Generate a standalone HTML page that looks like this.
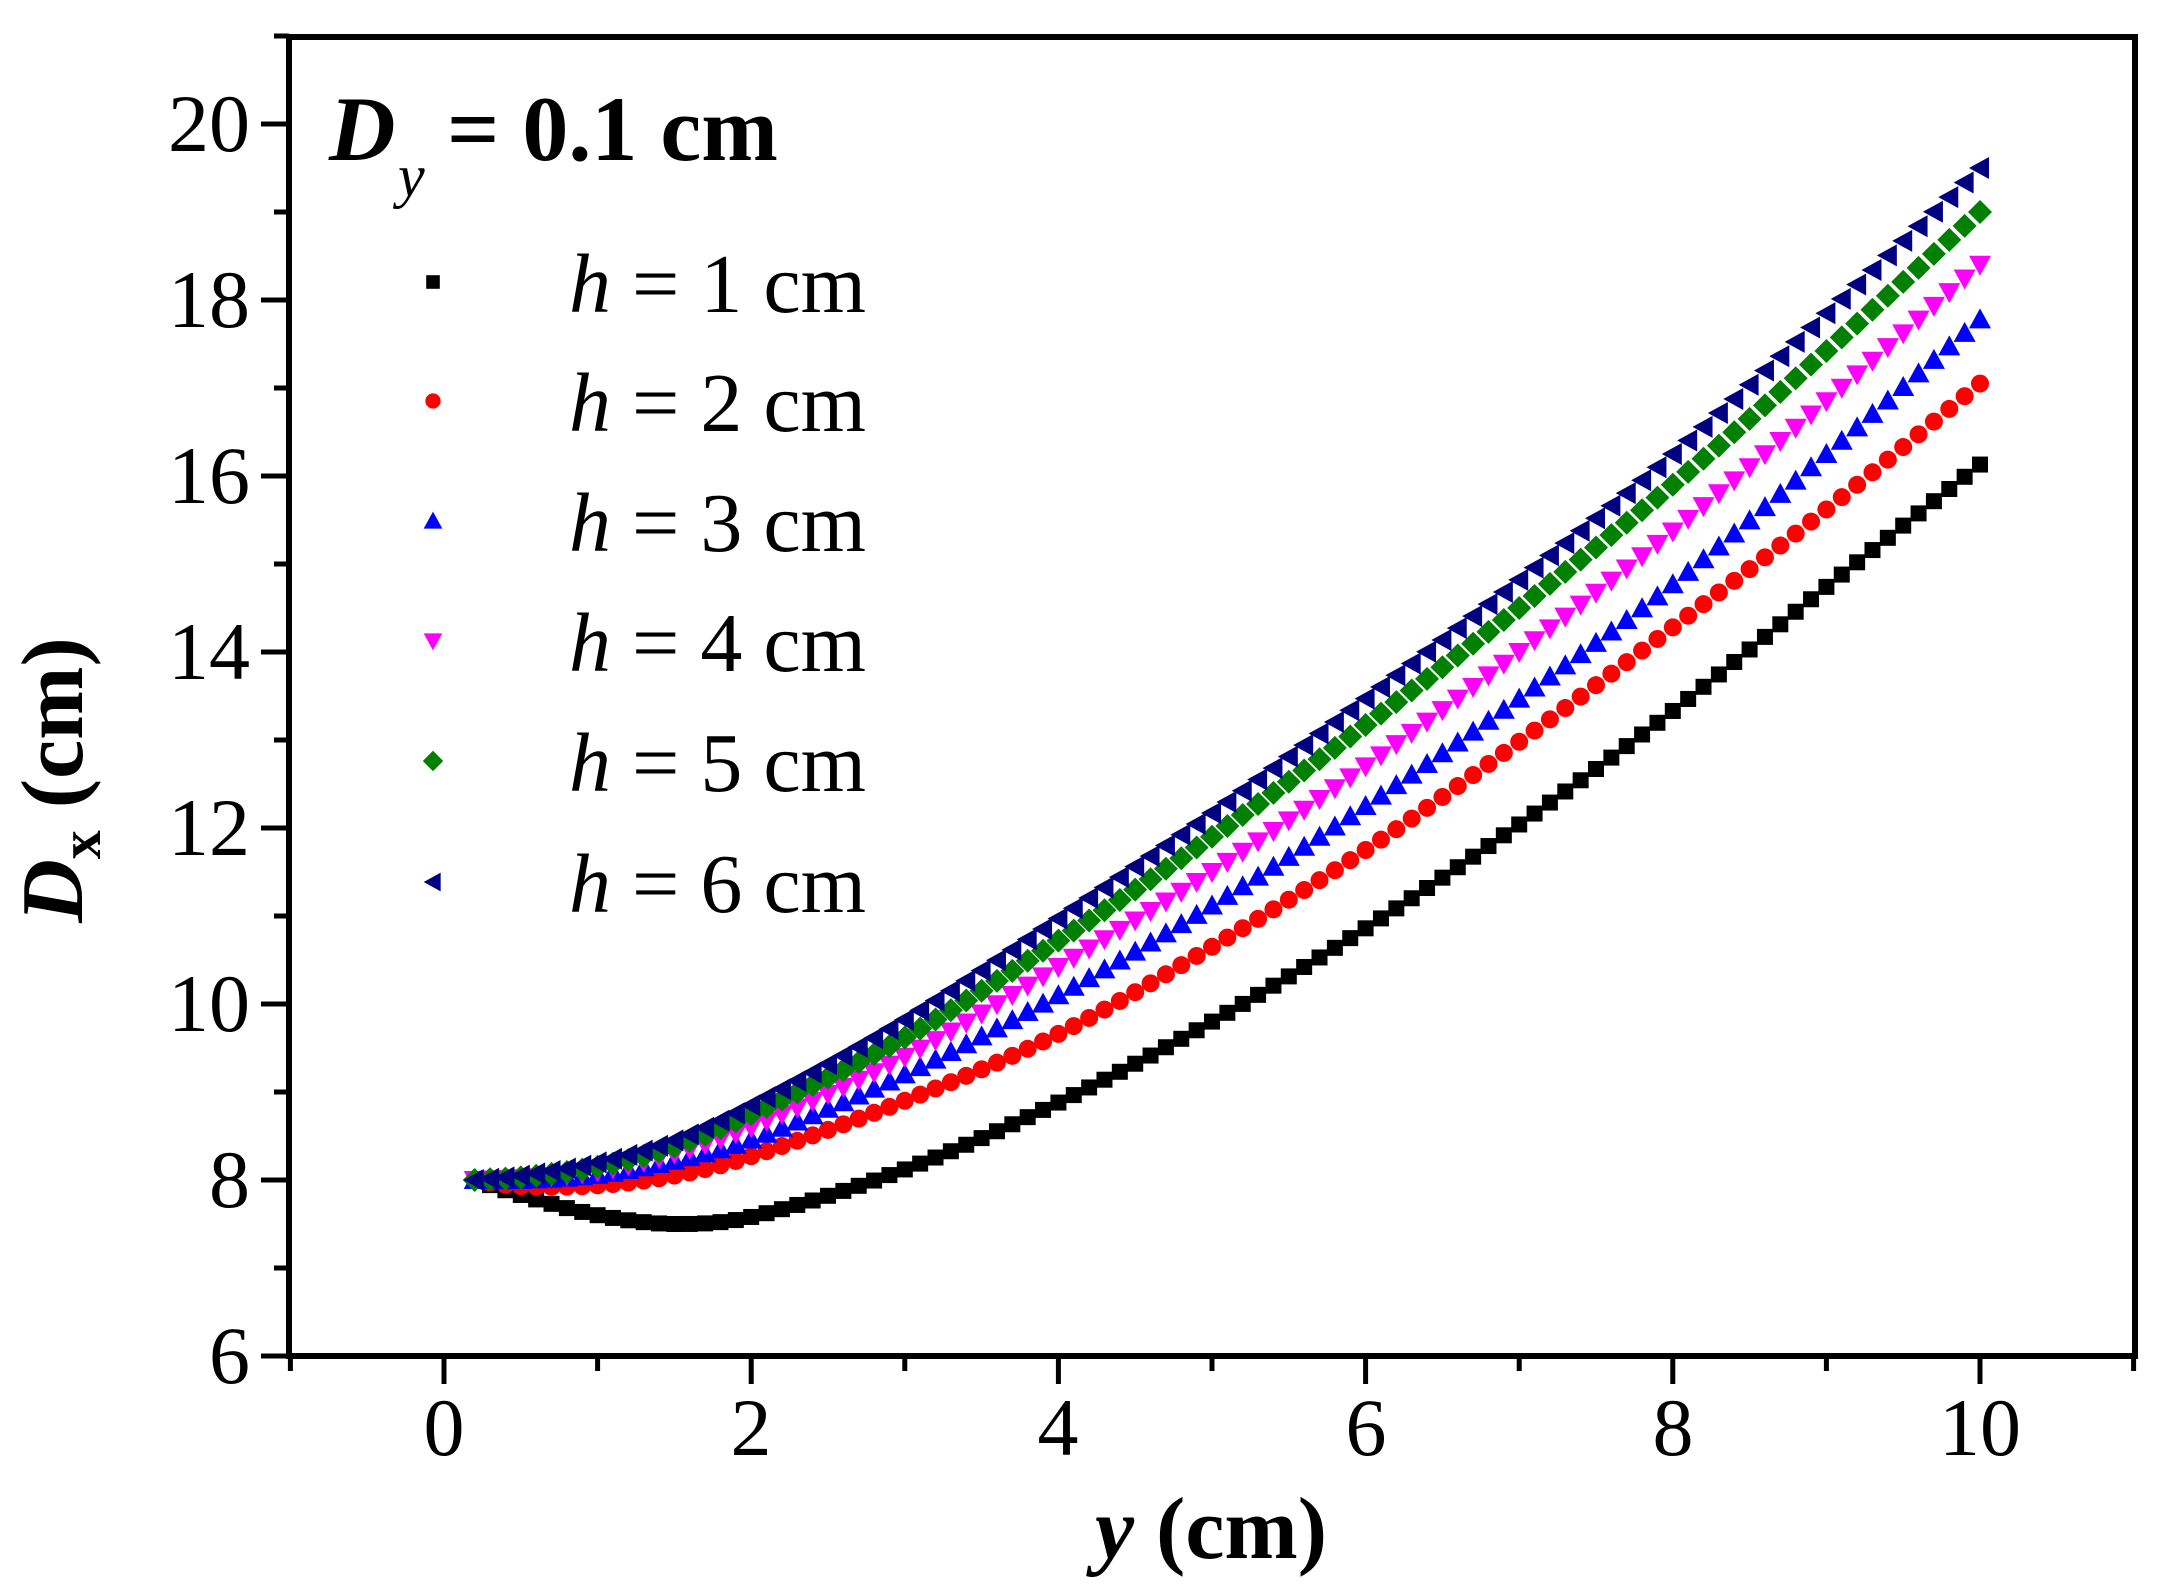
<!DOCTYPE html>
<html><head><meta charset="utf-8"><style>
html,body{margin:0;padding:0;background:#fff;}
svg{display:block;}
text,tspan{font-family:"Liberation Serif",serif;fill:#000;}
</style></head><body>
<svg id="s" width="2166" height="1595" viewBox="0 0 2166 1595" xmlns="http://www.w3.org/2000/svg" font-family="Liberation Serif, serif">
<rect width="2166" height="1595" fill="#fff"/>
<g id="data"></g>
<rect x="289" y="37" width="1846" height="1319" fill="none" stroke="#000" stroke-width="6"/>
<g id="ticks" stroke="#000" stroke-width="5"></g>
<g font-size="82" text-anchor="end">
<text x="250" y="1383">6</text><text x="250" y="1207">8</text><text x="250" y="1031">10</text>
<text x="250" y="855">12</text><text x="250" y="679">14</text><text x="250" y="503">16</text>
<text x="250" y="327">18</text><text x="250" y="151">20</text>
</g>
<g font-size="82" text-anchor="middle">
<text x="444" y="1455">0</text><text x="751" y="1455">2</text><text x="1058" y="1455">4</text>
<text x="1366" y="1455">6</text><text x="1673" y="1455">8</text><text x="1980" y="1455">10</text>
</g>
<text x="1211" y="1558" font-size="88" font-weight="bold" text-anchor="middle"><tspan font-style="italic">y</tspan> (cm)</text>
<text transform="translate(82,780) rotate(-90)" font-size="88" font-weight="bold" text-anchor="middle"><tspan font-style="italic">D</tspan><tspan font-size="58" dy="18">x</tspan><tspan dy="-18"> (cm)</tspan></text>
<text x="329" y="160" font-size="92" font-weight="bold"><tspan font-style="italic">D</tspan></text>
<text x="398" y="196" font-size="60" font-style="italic">y</text>
<text x="447" y="160" font-size="92" font-weight="bold">= 0.1 cm</text>
<g id="legend" font-size="84"></g>
</svg>
<script>
var NS="http://www.w3.org/2000/svg";
function X(x){return 444+153.6*x;}
function Y(v){return 1356-88*(v-6);}
function el(p,tag,a){var e=document.createElementNS(NS,tag);for(var k in a)e.setAttribute(k,a[k]);p.appendChild(e);return e;}
var tk=document.getElementById('ticks');
for(var v=6;v<=21;v++){var L=(v%2==0)?28:15;el(tk,'line',{x1:289-L,y1:Y(v),x2:289,y2:Y(v)});}
for(var x=-1;x<=11;x++){var L=(x%2==0)?28:15;el(tk,'line',{x1:X(x),y1:1356,x2:X(x),y2:1356+L});}
var S=[
{c:"#000",m:"sq",p:[[0.2,8],[0.5,7.83],[1,7.6],[1.5,7.5],[2,7.58],[3,8.12],[4,8.88],[5,9.8],[6,10.86],[7,12.04],[8,13.33],[9,14.74],[10,16.13]]},
{c:"#ff0000",m:"ci",p:[[0.2,8],[0.5,7.93],[1,7.94],[1.5,8.05],[2,8.27],[3,8.9],[4,9.66],[5,10.65],[6,11.75],[7,12.98],[8,14.28],[9,15.62],[10,17.05]]},
{c:"#0000ff",m:"up",p:[[0.2,8],[0.5,8.0],[1,8.06],[1.5,8.22],[2,8.46],[3,9.2],[4,10.1],[5,11.12],[6,12.25],[7,13.47],[8,14.77],[9,16.25],[10,17.78]]},
{c:"#ff00ff",m:"dn",p:[[0.2,8],[0.5,8.02],[1,8.1],[1.5,8.3],[2,8.6],[3,9.4],[4,10.42],[5,11.5],[6,12.7],[7,14.0],[8,15.37],[9,16.85],[10,18.4]]},
{c:"#008000",m:"di",p:[[0.2,8],[0.5,8.03],[1,8.15],[1.5,8.38],[2,8.75],[3,9.62],[4,10.72],[5,11.9],[6,13.17],[7,14.5],[8,15.9],[9,17.42],[10,19.0]]},
{c:"#000080",m:"lt",p:[[0.2,8],[0.5,8.05],[1,8.2],[1.5,8.45],[2,8.85],[3,9.82],[4,10.97],[5,12.17],[6,13.47],[7,14.82],[8,16.25],[9,17.85],[10,19.5]]}
];
function interp(p,x){
 for(var i=0;i<p.length-1;i++){if(x<=p[i+1][0]+1e-9){
  var x0=p[i][0],x1=p[i+1][0],y0=p[i][1],y1=p[i+1][1];
  var m0=i>0?(p[i+1][1]-p[i-1][1])/(p[i+1][0]-p[i-1][0]):(y1-y0)/(x1-x0);
  var m1=i<p.length-2?(p[i+2][1]-p[i][1])/(p[i+2][0]-p[i][0]):(y1-y0)/(x1-x0);
  var h=x1-x0,t=(x-x0)/h,t2=t*t,t3=t2*t;
  return (2*t3-3*t2+1)*y0+(t3-2*t2+t)*h*m0+(-2*t3+3*t2)*y1+(t3-t2)*h*m1;}}
 return p[p.length-1][1];}
function mk(g,m,c,x,y,s){
 if(m=="sq")el(g,'rect',{x:x-8*s,y:y-8*s,width:16*s,height:16*s,fill:c});
 else if(m=="ci")el(g,'circle',{cx:x,cy:y,r:9*s,fill:c});
 else if(m=="up")el(g,'polygon',{points:[x,y-11*s,x+11*s,y+9*s,x-11*s,y+9*s].join(' '),fill:c});
 else if(m=="dn")el(g,'polygon',{points:[x,y+11*s,x+11*s,y-9*s,x-11*s,y-9*s].join(' '),fill:c});
 else if(m=="di")el(g,'polygon',{points:[x,y-12*s,x+12*s,y,x,y+12*s,x-12*s,y].join(' '),fill:c});
 else if(m=="lt")el(g,'polygon',{points:[x-11*s,y,x+9*s,y-11*s,x+9*s,y+11*s].join(' '),fill:c});
}
var dg=document.getElementById('data');
S.forEach(function(s){for(var i=2;i<=100;i++){var x=i/10;mk(dg,s.m,s.c,X(x),Y(interp(s.p,x)),1);}});
var lg=document.getElementById('legend');
var rows=[282,401,521,641,761,882];
S.forEach(function(s,i){mk(lg,s.m,s.c,433,rows[i],0.85);
 var t=el(lg,'text',{x:569,y:rows[i]+30,'font-family':'Liberation Serif, serif','font-size':'84'});
 var a=document.createElementNS(NS,'tspan');a.setAttribute('font-style','italic');a.textContent='h';t.appendChild(a);
 var b=document.createElementNS(NS,'tspan');b.textContent=' = '+(i+1)+' cm';t.appendChild(b);});
</script>
</body></html>
